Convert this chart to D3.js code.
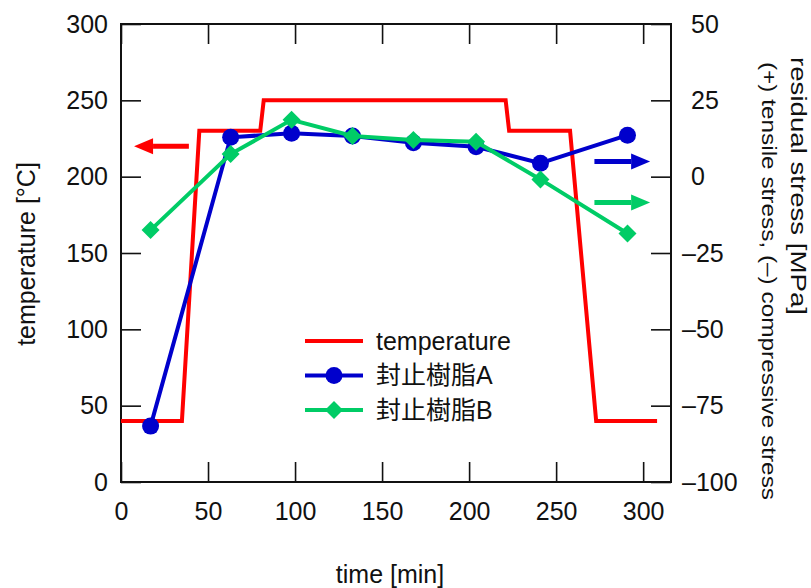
<!DOCTYPE html>
<html>
<head>
<meta charset="utf-8">
<script src="https://cdnjs.cloudflare.com/ajax/libs/d3/7.8.5/d3.min.js"></script>
<style>
	body { margin: 0; background: #fff; }
	svg text { font-family: "Liberation Sans", Arial, "Noto Sans CJK JP", sans-serif; fill: #111; }
</style>
</head>
<body>
<div id="chart"></div>
<script>
// temperature profile [min, °C]
var tempTime = [0, 35, 45, 80, 82, 221, 223, 258, 273, 308];
var tempValue = [40, 40, 230, 230, 250, 250, 230, 230, 40, 40];
// residual stress measurements [min, MPa]
var sampleTime = [17, 63, 98, 133, 168, 204, 241, 291];
var stressA = [-81.7, 12.9, 14.2, 13.3, 11.1, 9.8, 4.4, 13.6];
var stressB = [-17.5, 7.4, 18.6, 13.3, 12.0, 11.4, -0.9, -18.6];
// tick values
var xTicks = [0, 50, 100, 150, 200, 250, 300];
var yLeftTicks = [0, 50, 100, 150, 200, 250, 300];
var yRightTicks = [-100, -75, -50, -25, 0, 25, 50];
// legend
var seriesNames = ["temperature", "封止樹脂A", "封止樹脂B"];
var seriesColors = ["#ff0000", "#0000cc", "#00cc66"];

var W = 811, H = 588;
var plot = { left: 121, top: 24, right: 671, bottom: 482 };

var svg = d3.select("#chart").append("svg")
	.attr("width", W)
	.attr("height", H);

var x = d3.scaleLinear().domain([0, 316]).range([plot.left, plot.right]);
var yL = d3.scaleLinear().domain([0, 300]).range([plot.bottom, plot.top]);
var yR = d3.scaleLinear().domain([-100, 50]).range([plot.bottom, plot.top]);

/*
 * Axes
 */
function styleAxis(g){
	g.select(".domain").remove();
	g.selectAll(".tick line").attr("stroke", "#111").attr("stroke-width", 1.6);
	g.selectAll(".tick text").style("font-size", "25px").attr("fill", "#111");
}
svg.append("g")
	.attr("transform", "translate(0," + plot.bottom + ")")
	.call(d3.axisBottom(x).tickValues(xTicks).tickSize(-20).tickPadding(20).tickFormat(d3.format("d")))
	.call(styleAxis);
svg.append("g")
	.attr("transform", "translate(0," + plot.top + ")")
	.call(d3.axisTop(x).tickValues(xTicks).tickSize(-20).tickFormat(""))
	.call(styleAxis);
svg.append("g")
	.attr("transform", "translate(" + plot.left + ",0)")
	.call(d3.axisLeft(yL).tickValues(yLeftTicks).tickSize(-20).tickPadding(13).tickFormat(d3.format("d")))
	.call(styleAxis);
var rightAxis = svg.append("g")
	.attr("transform", "translate(" + plot.right + ",0)")
	.call(d3.axisRight(yR).tickValues(yRightTicks).tickSize(-20)
		.tickFormat(function(d){ return d < 0 ? "\u2013" + Math.abs(d) : String(d); }))
	.call(styleAxis);
rightAxis.selectAll(".tick text").attr("x", function(d){ return d < 0 ? 11 : 20; });

// frame
svg.append("rect")
	.attr("x", plot.left).attr("y", plot.top)
	.attr("width", plot.right - plot.left)
	.attr("height", plot.bottom - plot.top)
	.attr("fill", "none")
	.attr("stroke", "#111")
	.attr("stroke-width", 2);

/*
 * Series
 */
var tempLine = d3.line()
	.x(function(d){ return x(d[0]); })
	.y(function(d){ return yL(d[1]); });
var stressLine = d3.line()
	.x(function(d){ return x(d[0]); })
	.y(function(d){ return yR(d[1]); });

svg.append("path")
	.datum(d3.zip(tempTime, tempValue))
	.attr("d", tempLine)
	.attr("fill", "none")
	.attr("stroke", seriesColors[0])
	.attr("stroke-width", 4);

var dataA = d3.zip(sampleTime, stressA);
var dataB = d3.zip(sampleTime, stressB);

svg.append("path")
	.datum(dataA)
	.attr("d", stressLine)
	.attr("fill", "none")
	.attr("stroke", seriesColors[1])
	.attr("stroke-width", 4);
svg.selectAll(".ptA").data(dataA).enter().append("circle")
	.attr("class", "ptA")
	.attr("cx", function(d){ return x(d[0]); })
	.attr("cy", function(d){ return yR(d[1]); })
	.attr("r", 8.5)
	.attr("fill", seriesColors[1]);

svg.append("path")
	.datum(dataB)
	.attr("d", stressLine)
	.attr("fill", "none")
	.attr("stroke", seriesColors[2])
	.attr("stroke-width", 4);
var diamond = "M0,-9L9,0L0,9L-9,0Z";
svg.selectAll(".ptB").data(dataB).enter().append("path")
	.attr("class", "ptB")
	.attr("d", diamond)
	.attr("transform", function(d){ return "translate(" + x(d[0]) + "," + yR(d[1]) + ")"; })
	.attr("fill", seriesColors[2]);

/*
 * Axis-indicator arrows
 */
var arrows = [
	{ from: 39, to: 7.5, value: 220, scale: yL, color: seriesColors[0] },
	{ from: 272, to: 304, value: 5, scale: yR, color: seriesColors[1] },
	{ from: 272, to: 304, value: -8.5, scale: yR, color: seriesColors[2] }
];
arrows.forEach(function(a){
	var x0 = x(a.from), x1 = x(a.to), yy = a.scale(a.value);
	var dir = x1 > x0 ? 1 : -1;
	var headLen = 19, headHalf = 8;
	svg.append("line")
		.attr("x1", x0).attr("x2", x1 - dir * headLen)
		.attr("y1", yy).attr("y2", yy)
		.attr("stroke", a.color)
		.attr("stroke-width", 5);
	svg.append("path")
		.attr("d", "M" + x1 + "," + yy + "L" + (x1 - dir * headLen) + "," + (yy - headHalf) +
			"L" + (x1 - dir * headLen) + "," + (yy + headHalf) + "Z")
		.attr("fill", a.color);
});

/*
 * Legend
 */
var legend = svg.append("g").attr("transform", "translate(305,341)");
var rows = legend.selectAll("g").data(seriesNames).enter().append("g")
	.attr("transform", function(d, i){ return "translate(0," + (i * 34.5) + ")"; });
rows.append("line")
	.attr("x1", 0).attr("x2", 58)
	.attr("stroke", function(d, i){ return seriesColors[i]; })
	.attr("stroke-width", 4);
rows.filter(function(d, i){ return i === 1; }).append("circle")
	.attr("cx", 29).attr("r", 8.5).attr("fill", seriesColors[1]);
rows.filter(function(d, i){ return i === 2; }).append("path")
	.attr("d", diamond).attr("transform", "translate(29,0)").attr("fill", seriesColors[2]);
rows.append("text")
	.attr("x", 71)
	.attr("dy", "0.35em")
	.style("font-size", "25px")
	.text(function(d){ return d; });

/*
 * Axis titles
 */
svg.append("text")
	.attr("x", (plot.left + plot.right) / 2 - 6)
	.attr("y", 583)
	.attr("text-anchor", "middle")
	.style("font-size", "25px")
	.text("time [min]");
svg.append("text")
	.attr("transform", "translate(35,254) rotate(-90)")
	.attr("text-anchor", "middle")
	.style("font-size", "25px")
	.text("temperature [°C]");
svg.append("text")
	.attr("transform", "translate(791,57) rotate(90)")
	.attr("textLength", 258)
	.attr("lengthAdjust", "spacingAndGlyphs")
	.style("font-size", "22px")
	.text("residual stress [MPa]");
svg.append("text")
	.attr("transform", "translate(762,62) rotate(90)")
	.attr("textLength", 438)
	.attr("lengthAdjust", "spacingAndGlyphs")
	.style("font-size", "21px")
	.text("(+) tensile stress, (\u2013) compressive stress");
</script>
</body>
</html>
